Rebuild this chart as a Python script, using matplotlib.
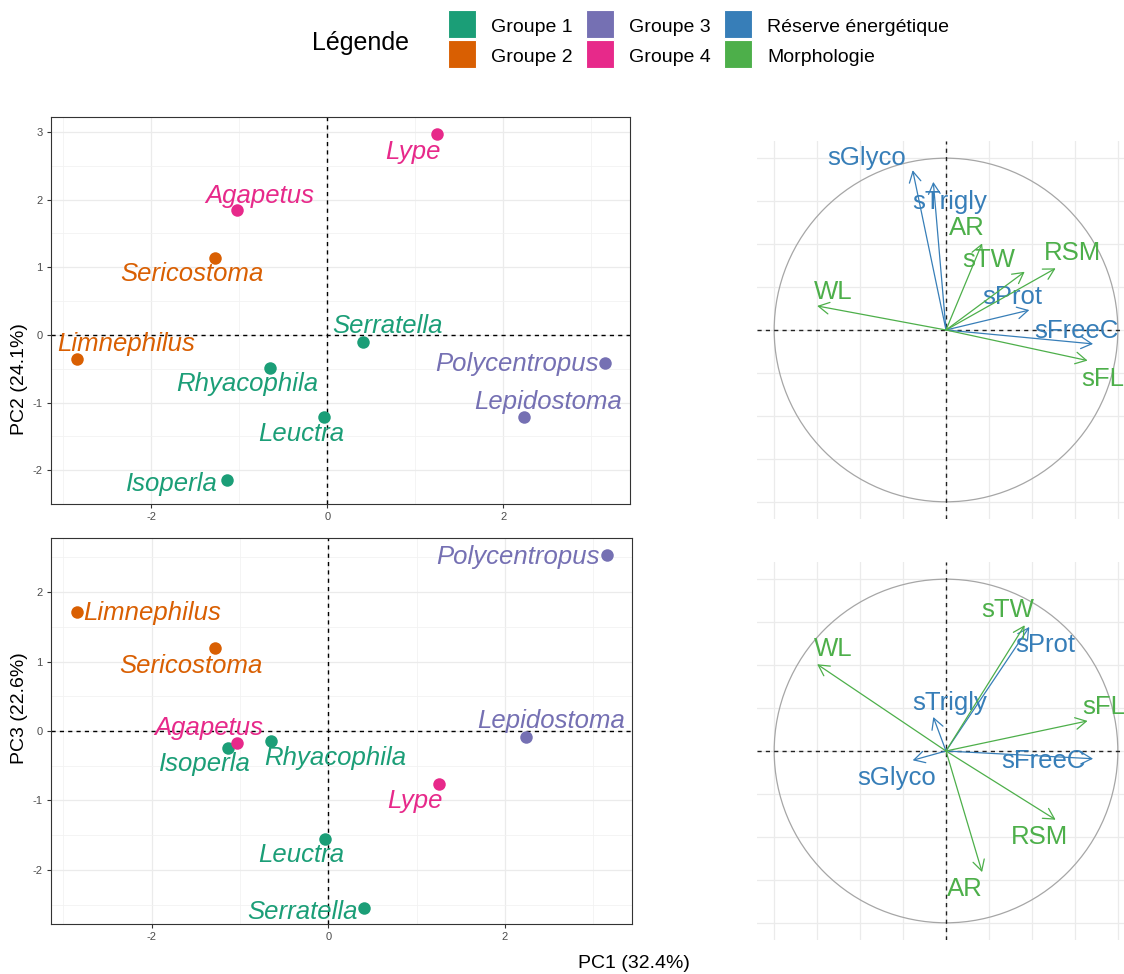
import numpy as np
import matplotlib
matplotlib.use("Agg")
import matplotlib.pyplot as plt
from matplotlib.patches import Rectangle, Circle

plt.rcParams['font.family'] = ['Liberation Sans', 'DejaVu Sans']
plt.rcParams['axes.unicode_minus'] = False

# --- donnees : coordonnees des taxons ---
taxons = ['Limnephilus', 'Sericostoma', 'Isoperla', 'Agapetus', 'Rhyacophila',
          'Leuctra', 'Serratella', 'Lype', 'Lepidostoma', 'Polycentropus']
groupe = [2, 2, 1, 4, 1, 1, 1, 4, 3, 3]
pc1 = [-2.84, -1.28, -1.14, -1.03, -0.65, -0.04, 0.41, 1.25, 2.24, 3.16]
pc2 = [-0.35, 1.13, -2.15, 1.85, -0.49, -1.22, -0.10, 2.97, -1.22, -0.41]
pc3 = [1.72, 1.20, -0.25, -0.17, -0.14, -1.56, -2.55, -0.76, -0.09, 2.54]

# --- donnees : variables (cercle des correlations) ---
variables = ['sGlyco', 'sTrigly', 'sProt', 'sFreeC', 'WL', 'AR', 'sTW', 'RSM', 'sFL']
type_var = ['Réserve énergétique'] * 4 + ['Morphologie'] * 5
load_pc1 = [-0.194, -0.074, 0.485, 0.856, -0.750, 0.210, 0.458, 0.638, 0.824]
load_pc2 = [0.930, 0.862, 0.116, -0.081, 0.140, 0.504, 0.339, 0.359, -0.178]
load_pc3 = [-0.054, 0.198, 0.722, -0.045, 0.505, -0.705, 0.732, -0.400, 0.175]

legende = ['Groupe 1', 'Groupe 2', 'Groupe 3', 'Groupe 4', 'Réserve énergétique', 'Morphologie']

couleurs = {1: '#1B9E77', 2: '#D95F02', 3: '#7570B3', 4: '#E7298A',
            'Réserve énergétique': '#377EB8', 'Morphologie': '#4DAF4A'}

# decalages des etiquettes (pixels) : (dx, dy, alignement)
etiq_haut = {'Limnephilus': (49, 15, 'center'), 'Sericostoma': (-23, -16, 'center'),
             'Isoperla': (-9, -4, 'right'), 'Agapetus': (23, 14, 'center'),
             'Rhyacophila': (-23, -16, 'center'), 'Leuctra': (-23, -17, 'center'),
             'Serratella': (24, 16, 'center'), 'Lype': (-24, -18, 'center'),
             'Lepidostoma': (24, 15, 'center'), 'Polycentropus': (-7, -1, 'right')}
etiq_bas = {'Limnephilus': (6, -1, 'left'), 'Sericostoma': (-24, -18, 'center'),
            'Isoperla': (-23, -16, 'center'), 'Agapetus': (-29, 15, 'center'),
            'Rhyacophila': (64, -17, 'center'), 'Leuctra': (-23, -16, 'center'),
            'Serratella': (-7, -4, 'right'), 'Lype': (-24, -17, 'center'),
            'Lepidostoma': (25, 16, 'center'), 'Polycentropus': (-8, -2, 'right')}
var_haut = {'sGlyco': (-46, 12), 'sTrigly': (16, -20), 'AR': (-15, 15), 'sTW': (-36, 12),
            'RSM': (17, 15), 'sProt': (-17, 13), 'WL': (16, 14), 'sFreeC': (-17, 13),
            'sFL': (15, -18)}
var_bas = {'sTW': (-17, 15), 'sProt': (16, -18), 'WL': (16, 15), 'sTrigly': (16, 14),
           'sFL': (16, 14), 'sFreeC': (-50, -2), 'sGlyco': (-16, -18), 'RSM': (-16, -17),
           'AR': (-17, -17)}

W, H = 1124, 974
fig = plt.figure(figsize=(W / 100, H / 100), dpi=100)


def pos(left, top, w, h):
    return [left / W, 1 - (top + h) / H, w / W, h / H]


def panel_individus(ax, x, y, etiq, yticks, ylim):
    ax.set_xlim(-3.14, 3.44)
    ax.set_ylim(*ylim)
    ax.set_xticks([-2, 0, 2])
    ax.set_xticks([-3, -1, 1, 3], minor=True)
    ax.set_yticks(yticks)
    ax.set_yticks(np.arange(-2.5, 3.01, 1.0), minor=True)
    ax.grid(True, which='major', color='#ebebeb', linewidth=0.9)
    ax.grid(True, which='minor', color='#f2f2f2', linewidth=0.6)
    ax.set_axisbelow(True)
    for s in ax.spines.values():
        s.set_color('#333333')
        s.set_linewidth(0.8)
    ax.tick_params(which='major', length=3, width=0.8, color='#333333',
                   labelsize=8, labelcolor='#4d4d4d', pad=3)
    ax.tick_params(which='minor', length=0)
    ax.axhline(0, color='black', linestyle=(0, (3, 3)), linewidth=1)
    ax.axvline(0, color='black', linestyle=(0, (3, 3)), linewidth=1)
    for i, nom in enumerate(taxons):
        c = couleurs[groupe[i]]
        ax.plot(x[i], y[i], 'o', color=c, markersize=9, markeredgewidth=0, zorder=3)
        dx, dy, ha = etiq[nom]
        ax.annotate(nom, (x[i], y[i]), xytext=(dx, dy), textcoords='offset pixels',
                    ha=ha, va='center', color=c, fontsize=18.5, style='italic', zorder=4)


def panel_cercle(ax, lx, ly, etiq):
    ax.set_xlim(-1.1, 1.1)
    ax.set_ylim(-1.1, 1.1)
    ax.set_aspect('equal')
    for s in ax.spines.values():
        s.set_visible(False)
    ax.set_xticks(np.arange(-1, 1.01, 0.25))
    ax.set_yticks(np.arange(-1, 1.01, 0.25))
    ax.tick_params(length=0, labelbottom=False, labelleft=False)
    ax.grid(True, color='#ebebeb', linewidth=0.9)
    ax.set_axisbelow(True)
    ax.add_patch(Circle((0, 0), 1, fill=False, edgecolor='#a6a6a6', linewidth=0.9))
    ax.axhline(0, color='#222222', linestyle=(0, (3, 3)), linewidth=1)
    ax.axvline(0, color='#222222', linestyle=(0, (3, 3)), linewidth=1)
    for i, nom in enumerate(variables):
        c = couleurs[type_var[i]]
        ax.annotate('', xy=(lx[i], ly[i]), xytext=(0, 0),
                    arrowprops=dict(arrowstyle='->,head_length=0.55,head_width=0.3',
                                    color=c, lw=0.9, shrinkA=0, shrinkB=0,
                                    mutation_scale=14))
        dx, dy = etiq[nom]
        ax.annotate(nom, (lx[i], ly[i]), xytext=(dx, dy), textcoords='offset pixels',
                    ha='center', va='center', color=c, fontsize=18.5)


ax1 = fig.add_axes(pos(51, 117, 579, 387))
panel_individus(ax1, pc1, pc2, etiq_haut, [-2, -1, 0, 1, 2, 3], (-2.39, 3.22))

ax2 = fig.add_axes(pos(51, 538, 581, 386))
panel_individus(ax2, pc1, pc3, etiq_bas, [-2, -1, 0, 1, 2], (-2.78, 2.78))

ax3 = fig.add_axes(pos(757, 141, 378, 378))
panel_cercle(ax3, load_pc1, load_pc2, var_haut)

ax4 = fig.add_axes(pos(757, 562, 378, 378))
panel_cercle(ax4, load_pc1, load_pc3, var_bas)

# titres des axes
fig.text(20 / W, 1 - 379 / H, 'PC2 (24.1%)', rotation=90, ha='center', va='center', fontsize=14)
fig.text(20 / W, 1 - 708 / H, 'PC3 (22.6%)', rotation=90, ha='center', va='center', fontsize=14)
fig.text(634 / W, 1 - 963 / H, 'PC1 (32.4%)', ha='center', va='center', fontsize=14)

# legende
fig.text(312 / W, 1 - 43 / H, 'Légende', ha='left', va='center', fontsize=18)
cles = [1, 2, 3, 4, 'Réserve énergétique', 'Morphologie']
for k, (lab, cle) in enumerate(zip(legende, cles)):
    col, row = k // 2, k % 2
    x0 = 448 + col * 138
    y0 = 10 + row * 30
    fig.patches.append(Rectangle((x0 / W, 1 - (y0 + 28) / H), 28 / W, 28 / H,
                                 transform=fig.transFigure, facecolor=couleurs[cle],
                                 edgecolor='white', linewidth=0.8))
    fig.text((x0 + 43) / W, 1 - (y0 + 17) / H, lab, ha='left', va='center', fontsize=14)

fig.savefig('out.png', dpi=100)
